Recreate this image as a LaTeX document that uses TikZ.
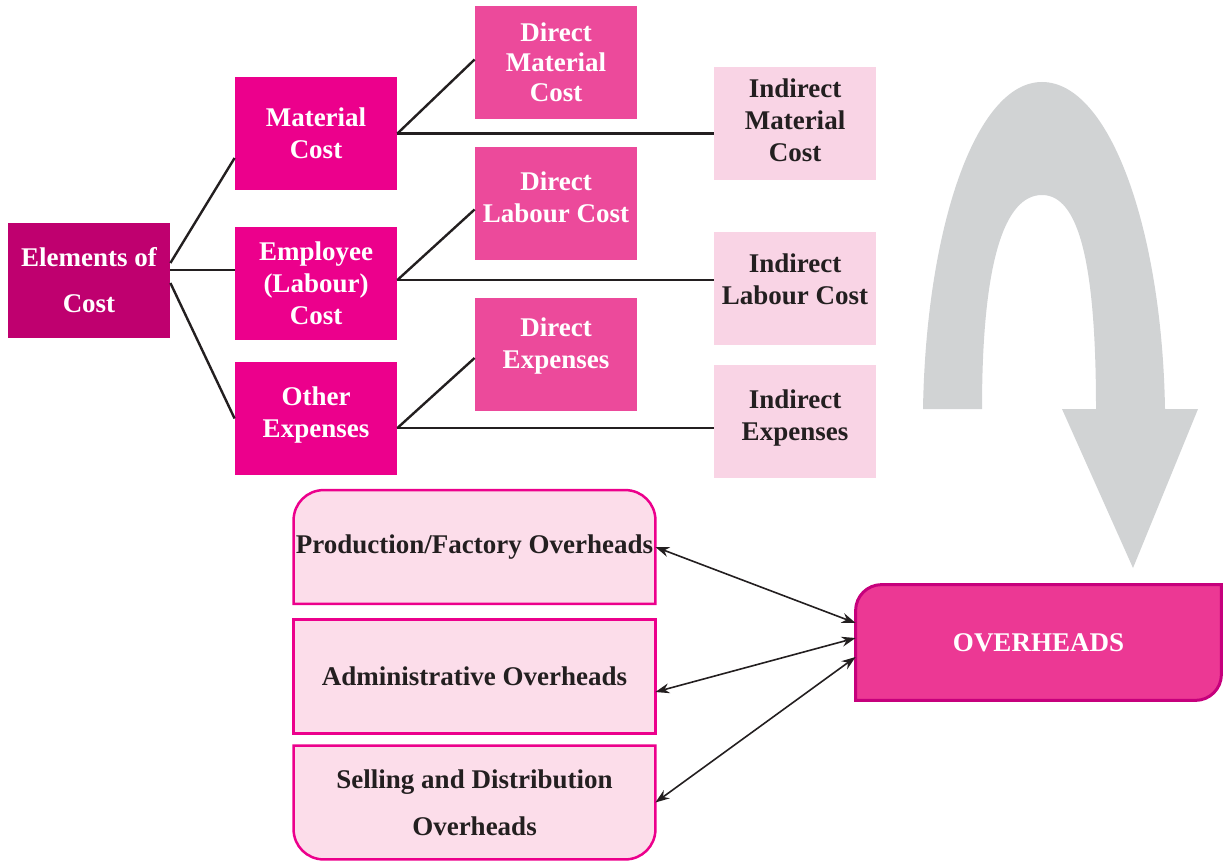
\documentclass[tikz,border=0pt]{standalone}
\usepackage{fontspec}
\setmainfont{Liberation Serif}
\usetikzlibrary{arrows.meta}
\definecolor{elemcol}{HTML}{BF006F}
\definecolor{maincol}{HTML}{EC008C}
\definecolor{dircol}{HTML}{EC4A9B}
\definecolor{indcol}{HTML}{F9D4E5}
\definecolor{ohfill}{HTML}{FCDDEA}
\definecolor{ovfill}{HTML}{EC3894}
\definecolor{ovline}{HTML}{C6007C}
\definecolor{inkcol}{HTML}{231F20}
\definecolor{arrowgray}{HTML}{D1D3D4}
\begin{document}
\begin{tikzpicture}[x=0.5pt,y=-0.5pt,
  every node/.style={font=\fontsize{13.5pt}{16pt}\selectfont\bfseries,align=center,inner sep=0pt},
  costbox/.style={minimum width=81pt,minimum height=56.5pt,text=white},
  elembox/.style={costbox,fill=elemcol,minimum height=57.5pt},
  mainbox/.style={costbox,fill=maincol},
  dirbox/.style={costbox,fill=dircol},
  indbox/.style={costbox,fill=indcol,text=inkcol},
  ohbox/.style={minimum width=180.5pt,minimum height=56.5pt,text=inkcol},
  ohline/.style={draw=maincol,fill=ohfill,line width=1.25pt},
  link/.style={draw=inkcol,line width=1.2pt},
  both/.style={draw=inkcol,line width=0.8pt,{Stealth[length=7pt,width=5pt]}-{Stealth[length=7pt,width=5pt]}}]
  \useasboundingbox (0,0) rectangle (1225,861);
  \fill[arrowgray] (923,409) .. controls (926,230) and (975,82) .. (1042,82)
    .. controls (1110,82) and (1162,230) .. (1165,409) -- (1198,409) -- (1133,568)
    -- (1062,409) -- (1096,409) .. controls (1096,260) and (1078,195) .. (1042,195)
    .. controls (1005,195) and (982,260) .. (982,409) -- cycle;
  \node[elembox] (elem) at (89,280.5) {Elements of\\[7pt]Cost};
  \node[mainbox] (mat) at (316,133.5) {Material\\Cost};
  \node[mainbox] (emp) at (316,283.5) {Employee\\(Labour)\\Cost};
  \node[mainbox] (oth) at (316,418.5) {};
  \node[dirbox] (dmat) at (556,62.5) {Direct\\[-1pt]Material\\[-1pt]Cost};
  \node[dirbox] (dlab) at (556,203.5) {};
  \node[dirbox] (dexp) at (556,354.5) {};
  \node[indbox] (imat) at (795,123.5) {};
  \node[indbox] (ilab) at (795,288.5) {};
  \node[indbox] (iexp) at (795,421.5) {};
  \node[text=white] (oth-t) at ([yshift=1.5pt]oth) {Other\\Expenses};
  \node[text=white] (dlab-t) at ([yshift=3.25pt]dlab) {Direct\\Labour Cost};
  \node[text=white] (dexp-t) at ([yshift=4pt]dexp) {Direct\\Expenses};
  \node[text=inkcol] (imat-t) at ([yshift=1.5pt]imat) {Indirect\\Material\\Cost};
  \node[text=inkcol] (ilab-t) at ([yshift=4.5pt]ilab) {Indirect\\Labour Cost};
  \node[text=inkcol] (iexp-t) at ([yshift=1.5pt]iexp) {Indirect\\Expenses};
  \draw[link] ([yshift=8.75pt]elem.east) -- ([yshift=-12.25pt]mat.west);
  \draw[link] ([yshift=5.25pt]elem.east) -- ([yshift=6.75pt]emp.west);
  \draw[link] ([yshift=-1.25pt]elem.east) -- (oth.west);
  \draw[link] (mat.east) -- ([yshift=1.5pt]dmat.west);
  \draw[link] (mat.east) -- (mat.east -| imat.west);
  \draw[link] ([yshift=1.75pt]emp.east) -- ([yshift=-3pt]dlab.west);
  \draw[link] ([yshift=1.75pt]emp.east) -- ([yshift=1.75pt]emp.east -| ilab.west);
  \draw[link] ([yshift=-4.75pt]oth.east) -- ([yshift=-1.75pt]dexp.west);
  \draw[link] ([yshift=-4.75pt]oth.east) -- ([yshift=-4.75pt]oth.east -| iexp.west);
  \node[ohbox] (prod) at (474.5,547) {};
  \node[ohbox] (adm) at (474.5,676.5) {};
  \node[ohbox] (sell) at (474.5,802.5) {};
  \filldraw[ohline] (prod.south west) -- ([yshift=-15pt]prod.north west)
    arc[start angle=180,end angle=90,radius=15pt] -- ([xshift=-15pt]prod.north east)
    arc[start angle=90,end angle=0,radius=15pt] -- (prod.south east) -- cycle;
  \filldraw[ohline] (adm.south west) rectangle (adm.north east);
  \filldraw[ohline] (sell.north west) -- ([yshift=15pt]sell.south west)
    arc[start angle=180,end angle=270,radius=15pt] -- ([xshift=-15pt]sell.south east)
    arc[start angle=270,end angle=360,radius=15pt] -- (sell.north east) -- cycle;
  \node[text=inkcol] (prod-t) at (prod) {Production/Factory Overheads};
  \node[text=inkcol] (adm-t) at (adm) {Administrative Overheads};
  \node[text=inkcol] (sell-t) at (sell) {Selling and Distribution\\[7.5pt]Overheads};
  \node[minimum width=182.5pt,minimum height=57.5pt] (over) at (1038.5,642.5) {};
  \filldraw[draw=ovline,fill=ovfill,line width=1.5pt] ([xshift=13pt]over.north west)
    -- (over.north east) -- ([yshift=13pt]over.south east)
    arc[start angle=0,end angle=-90,radius=13pt] -- (over.south west)
    -- ([yshift=-13pt]over.north west) arc[start angle=180,end angle=90,radius=13pt] -- cycle;
  \node[text=white] (over-t) at (over) {OVERHEADS};
  \draw[both] (prod.east) -- ([yshift=9.75pt]over.west);
  \draw[both] ([yshift=-7.75pt]adm.east) -- ([yshift=2.25pt]over.west);
  \draw[both] (sell.east) -- ([yshift=-7.25pt]over.west);
\end{tikzpicture}
\end{document}
